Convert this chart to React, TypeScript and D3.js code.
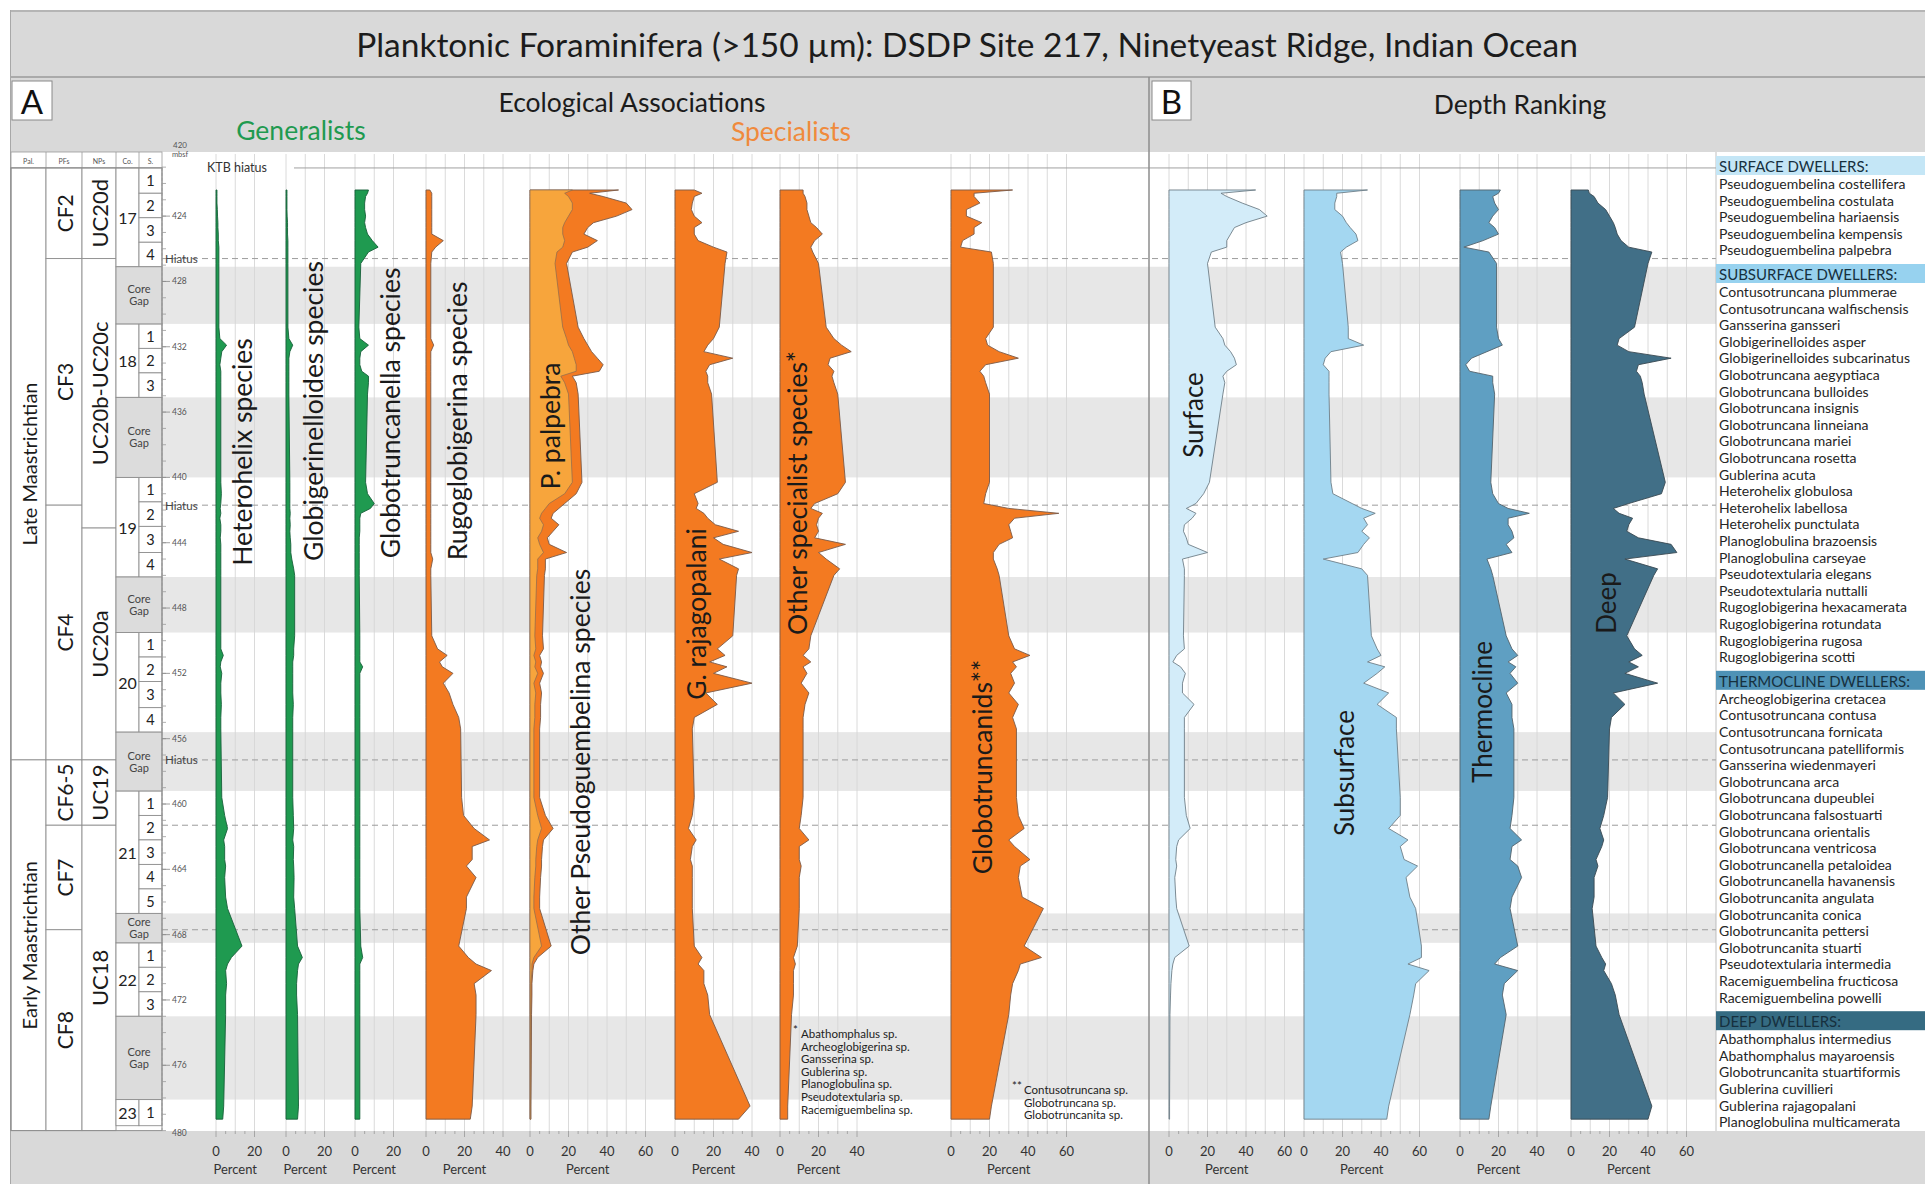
import React from "react";
import * as d3 from "d3";

// ---------------- Sample depths (mbsf), DSDP Site 217 ----------------
const depths = [
  422.4, 422.6, 422.8, 423.2, 423.6, 424.0, 424.4, 424.7, 425.1, 425.5, 425.9, 426.2, 426.9,
  430.8, 431.5, 431.9, 432.3, 432.7, 433.1, 433.5, 433.8, 434.2, 434.9,
  440.3, 441.0, 441.6, 441.9, 442.2, 442.5, 442.9, 443.3, 443.7, 444.1, 444.6, 445.0, 445.6, 446.0,
  449.7, 450.5, 450.9, 451.3, 451.6, 452.0, 452.6, 453.2, 453.9, 454.7, 455.4,
  459.6, 460.7, 461.5, 462.2, 462.6, 463.4, 463.8, 464.5, 465.7, 466.4,
  468.7, 469.4, 469.8, 470.2, 471.0, 471.7, 472.9,
  478.5, 479.3,
];

// ---------------- A: Ecological associations (% of assemblage) ----------------
const heterohelix = [
  0.5, 0.5, 0.5, 0.5, 0.7, 0.8, 1.0, 1.0, 1.2, 1.2, 1.5, 1.5, 1.5,
  1.5, 2.0, 5.5, 3.0, 2.5, 2.0, 2.5, 2.5, 2.5, 2.5,
  2.5, 2.8, 2.5, 2.2, 2.5, 2.0, 2.5, 2.5, 2.2, 2.5, 2.5, 2.5, 2.5, 2.5,
  2.5, 2.5, 3.8, 2.5, 2.2, 3.0, 2.5, 2.5, 2.8, 2.5, 2.5,
  3.0, 4.5, 6.0, 4.0, 4.5, 4.5, 5.0, 4.5, 5.0, 6.0,
  13.5, 8.0, 6.0, 5.0, 5.5, 5.0, 5.0,
  4.0, 3.5,
];
const globigerinelloides = [
  0.5, 0.5, 0.5, 0.5, 0.5, 0.6, 0.8, 0.8, 0.8, 1.0, 1.0, 1.0, 1.0,
  1.0, 1.5, 3.5, 2.0, 1.5, 1.5, 1.5, 1.5, 1.5, 1.5,
  2.0, 2.0, 2.0, 2.0, 2.2, 2.0, 2.2, 2.0, 2.2, 2.5, 2.5, 3.0, 4.0, 4.5,
  4.5, 4.0, 4.0, 3.5, 3.5, 3.5, 3.5, 3.5, 3.8, 3.5, 3.5,
  3.5, 3.8, 4.0, 3.5, 4.0, 3.8, 4.0, 4.2, 4.0, 4.5,
  6.0, 8.5, 6.5, 6.0, 5.5, 5.5, 6.0,
  6.5, 6.0,
];
const globotruncanella = [
  7, 6.5, 5.5, 5, 5, 5.5, 5, 5.5, 6.5, 9, 12, 7, 3,
  2, 2.5, 7, 3, 2.5, 2.5, 3.5, 7, 7, 6.5,
  5.5, 6.5, 10, 8, 3, 2.5, 2.5, 2.5, 2.2, 2.2, 2.2, 2.2, 2.2, 2.2,
  2.5, 2.5, 2.5, 2.5, 4, 2.5, 2.5, 2.5, 2.5, 2.5, 2.5,
  2.5, 2.5, 2.5, 2.5, 2.5, 2.5, 2.5, 2.5, 2.5, 2.5,
  3, 4, 2.5, 2.5, 2.5, 2.5, 2.5,
  2.5, 2.5,
];
const rugoglobigerina = [
  2, 3, 3, 3, 3, 3, 3, 3, 3, 9, 5, 3, 2.5,
  2.5, 2.5, 4, 2.5, 2.5, 2.5, 2.5, 2.5, 2.5, 2.5,
  2.5, 2.5, 2.5, 2.5, 2.5, 2.5, 2.5, 2.5, 2.5, 2.5, 2.5, 3.5, 2.5, 2.5,
  3, 6, 11, 7, 8.5, 14, 9, 12, 14, 17, 18,
  18.5, 19.5, 25, 33, 24, 24, 21, 26, 21, 21,
  17, 22, 26, 34, 25, 26, 26,
  24, 23,
];
const palpebra = [
  22, 18, 20, 22, 22, 20, 18, 17, 17, 18, 17, 14, 13,
  17, 19, 20, 22, 23, 24, 24, 16, 18, 20,
  22, 18, 10, 8, 6, 5, 7, 6, 4, 5, 7, 4, 4, 3.5,
  2.5, 3, 2, 3, 2.5, 4, 2, 3, 2.5, 2.5, 2,
  2, 4, 6, 4, 3.5, 3, 3, 2.5, 2, 2,
  6, 2, 1, 1, 0.5, 0.5, 0.4,
  0.3, 0.3,
];
const otherPseudoguembelina = [
  24, 13, 18, 28, 31, 25, 15, 13, 11, 17, 13, 8, 6,
  8, 9, 10, 10, 12, 14, 12, 6, 6, 5,
  5, 6, 8, 7, 6, 6, 8, 6, 5, 5, 12, 4, 4, 4,
  4, 4, 3, 3, 3, 3, 3, 3, 3, 3, 3,
  3, 4, 6, 3, 3, 3, 3, 3, 3, 3,
  5, 2, 1, 0.5, 0.5, 0.5, 0.4,
  0.2, 0.2,
];
const rajagopalani = [
  10, 14, 10, 9, 8.5, 10, 14, 10, 10, 12, 20, 27, 26,
  23, 20, 17, 15, 30, 18, 16, 17, 17, 19,
  22, 10, 12, 11, 15, 17, 21, 33, 20, 25, 40, 23, 33, 32,
  30, 22, 26, 18, 27, 20, 40, 16, 22, 10, 9,
  10, 9, 7, 11, 9, 8, 9, 9, 9, 9,
  10, 14, 12, 15, 15, 17, 18,
  39, 33,
];
const otherSpecialists = [
  12, 12, 13, 14, 14, 15, 16, 19, 22, 18, 16, 17, 20,
  24, 28, 32, 37, 26, 25, 28, 27, 28, 30,
  34, 30, 18, 16, 22, 20, 19, 20, 18, 34, 20, 24, 31, 28,
  16, 15, 12, 16, 12, 14, 11, 15, 13, 12, 12,
  12, 11, 10, 15, 10, 10, 11, 10, 10, 10,
  9, 7, 8, 7, 7, 7, 6,
  4, 4,
];
const globotruncanids = [
  32, 12, 12, 15, 8, 8, 16, 12, 12, 6, 5, 21, 22,
  22, 18, 19, 25, 35, 18, 15, 17, 18, 20,
  20, 18, 17, 30, 56, 33, 30, 31, 32, 25, 22, 22, 24, 25,
  30, 33, 41, 32, 34, 31, 33, 30, 35, 32, 34,
  34, 35, 38, 30, 33, 41, 36, 35, 37, 48,
  38, 47, 36, 35, 32, 31, 30,
  21, 20,
];

// ---------------- B: Depth ranking (% of assemblage) ----------------
const surface = [
  45, 27, 30, 38, 47, 51, 40, 34, 32, 30, 30, 22, 20,
  24, 28, 29, 32, 34, 35, 30, 28, 29, 28,
  21, 18, 14, 9, 14, 12, 8, 7.5, 9, 10, 20, 7, 8, 8,
  7.5, 8, 4, 2, 6, 8.5, 7, 7, 13, 8, 8,
  8, 9, 11, 5, 4, 3.5, 4, 3, 3.5, 4,
  10.5, 3, 2, 1.5, 1, 0.8, 0.5,
  0.3, 0.3,
];
const subsurface = [
  33, 17, 17, 16, 16, 20, 22, 24, 27, 28, 22, 19, 20,
  23, 23, 31, 14, 11, 10, 13, 13, 13, 13,
  14, 15, 25, 30, 37, 31, 33, 30, 34, 31, 28, 10, 30, 33,
  35, 38, 40, 33, 42, 38, 31, 44, 38, 48, 48,
  50, 50, 44, 54, 50, 52, 59, 53, 55, 58,
  61, 61, 54, 65, 58, 57, 55,
  44, 43,
];
const thermocline = [
  21, 20, 17, 18, 20, 17, 15, 18, 20, 12, 2, 15, 19,
  19, 20, 22, 14, 6, 3, 5, 17, 17, 18,
  16, 17, 20, 25, 36, 25, 25, 27, 28, 24, 27, 14, 16, 17,
  24, 27, 30, 25, 29, 26, 30, 24, 27, 27, 28,
  28, 27, 26, 32, 27, 26, 30, 32, 27, 26,
  30, 21, 18, 30, 23, 22, 24,
  16, 15,
];
const deep = [
  9, 9.5, 12, 14, 18, 20, 22, 23, 24, 26, 30, 42, 40,
  33, 25, 24, 30, 52, 35, 34, 36, 37, 38,
  49, 47, 30, 22, 25, 32, 30, 29, 35, 52, 55, 28, 45, 43,
  29, 33, 37, 30, 35, 28, 45, 22, 28, 21, 20,
  19, 17, 15, 17, 16, 13, 14, 12, 12, 11,
  13, 16, 18, 17, 21, 23, 25,
  42, 40,
];

// ---------------- Stratigraphy ----------------
const epochs = [
  { label: "Late Maastrichtian", top: 421.05, base: 457.3 },
  { label: "Early Maastrichtian", top: 457.3, base: 480 },
];
const pfZones = [
  { label: "CF2", top: 421.05, base: 426.6 },
  { label: "CF3", top: 426.6, base: 441.7 },
  { label: "CF4", top: 441.7, base: 457.3 },
  { label: "CF6-5", top: 457.3, base: 461.3 },
  { label: "CF7", top: 461.3, base: 467.7 },
  { label: "CF8", top: 467.7, base: 480 },
];
const npZones = [
  { label: "UC20d", top: 421.05, base: 426.6 },
  { label: "UC20b-UC20c", top: 426.6, base: 443.1 },
  { label: "UC20a", top: 443.1, base: 457.3 },
  { label: "UC19", top: 457.3, base: 461.3 },
  { label: "UC18", top: 461.3, base: 480 },
];
const cores = [
  { id: "17", sections: [421.05, 422.6, 424.1, 425.6, 427.1] },
  { id: "18", sections: [430.6, 432.1, 433.6, 435.1] },
  { id: "19", sections: [440.0, 441.5, 443.0, 444.6, 446.1] },
  { id: "20", sections: [449.5, 451.0, 452.5, 454.1, 455.6] },
  { id: "21", sections: [459.2, 460.7, 462.2, 463.7, 465.2, 466.7] },
  { id: "22", sections: [468.5, 470.0, 471.5, 473.0] },
  { id: "23", sections: [478.1, 479.7] },
];
const coreGaps = [
  [427.1, 430.6], [435.1, 440.0], [446.1, 449.5],
  [455.6, 459.2], [466.7, 468.5], [473.0, 478.1],
];
const hiatuses = [426.6, 441.7, 457.3, 461.3, 467.7];
const labelledHiatuses = [426.6, 441.7, 457.3];
const depthTicks = [424, 428, 432, 436, 440, 444, 448, 452, 456, 460, 464, 468, 472, 476];
const columnHeads = ["Pal.", "PFs", "NPs", "Co.", "S."];

// ---------------- Species lists for depth ranking ----------------
const surfaceDwellers = [
  "Pseudoguembelina costellifera", "Pseudoguembelina costulata", "Pseudoguembelina hariaensis",
  "Pseudoguembelina kempensis", "Pseudoguembelina palpebra",
];
const subsurfaceDwellers = [
  "Contusotruncana plummerae", "Contusotruncana walfischensis", "Gansserina gansseri",
  "Globigerinelloides asper", "Globigerinelloides subcarinatus", "Globotruncana aegyptiaca",
  "Globotruncana bulloides", "Globotruncana insignis", "Globotruncana linneiana",
  "Globotruncana mariei", "Globotruncana rosetta", "Gublerina acuta", "Heterohelix globulosa",
  "Heterohelix labellosa", "Heterohelix punctulata", "Planoglobulina brazoensis",
  "Planoglobulina carseyae", "Pseudotextularia elegans", "Pseudotextularia nuttalli",
  "Rugoglobigerina hexacamerata", "Rugoglobigerina rotundata", "Rugoglobigerina rugosa",
  "Rugoglobigerina scotti",
];
const thermoclineDwellers = [
  "Archeoglobigerina cretacea", "Contusotruncana contusa", "Contusotruncana fornicata",
  "Contusotruncana patelliformis", "Gansserina wiedenmayeri", "Globotruncana arca",
  "Globotruncana dupeublei", "Globotruncana falsostuarti", "Globotruncana orientalis",
  "Globotruncana ventricosa", "Globotruncanella petaloidea", "Globotruncanella havanensis",
  "Globotruncanita angulata", "Globotruncanita conica", "Globotruncanita pettersi",
  "Globotruncanita stuarti", "Pseudotextularia intermedia", "Racemiguembelina fructicosa",
  "Racemiguembelina powelli",
];
const deepDwellers = [
  "Abathomphalus intermedius", "Abathomphalus mayaroensis", "Globotruncanita stuartiformis",
  "Gublerina cuvillieri", "Gublerina rajagopalani", "Planoglobulina multicamerata",
];
const otherSpecialistFootnote = [
  "Abathomphalus sp.", "Archeoglobigerina sp.", "Gansserina sp.", "Gublerina sp.",
  "Planoglobulina sp.", "Pseudotextularia sp.", "Racemiguembelina sp.",
];
const globotruncanidFootnote = ["Contusotruncana sp.", "Globotruncana sp.", "Globotruncanita sp."];

// ---------------- Layout & style ----------------
const W = 1925;
const H = 1184;
const FONT = "Lato, 'Open Sans', 'DejaVu Sans', sans-serif";
const GREEN = "#1f9a50";
const ORANGE = "#f37a21";
const LIGHT_ORANGE = "#f7a53c";
const BODY_TOP = 152;
const BODY_BOTTOM = 1131;
const LIST_X = 1716;
const DIVIDER_X = 1149;
const PCT_PX = 1.925; // pixels per percent on every panel
const colX = [11, 46, 82, 116, 139, 162];

const y = d3.scaleLinear().domain([420, 480]).range([150.8, 1130.6]);

type Panel = {
  name: string;
  values: number[];
  zero: number;
  max: number;
  fill: string;
  stroke: string;
  labelX: number;
  labelY: number;
  labelSize: number;
};

const panels: Panel[] = [
  { name: "Heterohelix species", values: heterohelix, zero: 216, max: 20, fill: GREEN, stroke: "#17603a", labelX: 242, labelY: 452, labelSize: 26.5 },
  { name: "Globigerinelloides species", values: globigerinelloides, zero: 286, max: 20, fill: GREEN, stroke: "#17603a", labelX: 313, labelY: 411, labelSize: 26.5 },
  { name: "Globotruncanella species", values: globotruncanella, zero: 355, max: 20, fill: GREEN, stroke: "#17603a", labelX: 390, labelY: 413, labelSize: 26.5 },
  { name: "Rugoglobigerina species", values: rugoglobigerina, zero: 426, max: 40, fill: ORANGE, stroke: "#7a5a48", labelX: 457, labelY: 421, labelSize: 26.5 },
  { name: "", values: [], zero: 530, max: 60, fill: ORANGE, stroke: "#7a5a48", labelX: 0, labelY: 0, labelSize: 26.5 },
  { name: "G. rajagopalani", values: rajagopalani, zero: 675, max: 40, fill: ORANGE, stroke: "#7a5a48", labelX: 696, labelY: 614, labelSize: 26.5 },
  { name: "Other specialist species*", values: otherSpecialists, zero: 780, max: 40, fill: ORANGE, stroke: "#7a5a48", labelX: 797, labelY: 493, labelSize: 26.5 },
  { name: "Globotruncanids**", values: globotruncanids, zero: 951, max: 60, fill: ORANGE, stroke: "#7a5a48", labelX: 982, labelY: 767, labelSize: 26.5 },
  { name: "Surface", values: surface, zero: 1169, max: 60, fill: "#d3ecf9", stroke: "#6f7f88", labelX: 1193, labelY: 415, labelSize: 26 },
  { name: "Subsurface", values: subsurface, zero: 1304, max: 60, fill: "#a4d7f1", stroke: "#6f7f88", labelX: 1344, labelY: 773, labelSize: 26 },
  { name: "Thermocline", values: thermocline, zero: 1460, max: 40, fill: "#5f9fc2", stroke: "#53636c", labelX: 1482, labelY: 712, labelSize: 26 },
  { name: "Deep", values: deep, zero: 1571, max: 60, fill: "#416f87", stroke: "#3a4a52", labelX: 1606, labelY: 603, labelSize: 26 },
];

const speciesGroups = [
  { title: "SURFACE DWELLERS:", bg: "#c4e6f6", items: surfaceDwellers },
  { title: "SUBSURFACE DWELLERS:", bg: "#97d2ef", items: subsurfaceDwellers },
  { title: "THERMOCLINE DWELLERS:", bg: "#4e92b6", items: thermoclineDwellers },
  { title: "DEEP DWELLERS:", bg: "#356b82", items: deepDwellers },
];

function xScale(p: Panel) {
  return d3.scaleLinear().domain([0, 100]).range([p.zero, p.zero + 100 * PCT_PX]);
}

function RotText(props: { x: number; y: number; size: number; children: React.ReactNode; fill?: string }) {
  return (
    <text
      transform={`translate(${props.x},${props.y}) rotate(-90)`}
      textAnchor="middle"
      dominantBaseline="central"
      fontSize={props.size}
      fill={props.fill ?? "#1a1a1a"}
    >
      {props.children}
    </text>
  );
}

export default function App() {
  const idx = d3.range(depths.length);

  const singleArea = (p: Panel) => {
    const x = xScale(p);
    return (
      d3
        .area<number>()
        .y((i) => y(depths[i]))
        .x0(() => x(0))
        .x1((i) => x(p.values[i]))(idx) ?? ""
    );
  };

  // Stacked Pseudoguembelina panel
  const pseudoPanel = panels[4];
  const px = xScale(pseudoPanel);
  const stackRows = depths.map((_, i) => ({ palpebra: palpebra[i], other: otherPseudoguembelina[i] }));
  const stacked = d3.stack<{ palpebra: number; other: number }>().keys(["palpebra", "other"])(stackRows);
  const stackArea = d3
    .area<d3.SeriesPoint<{ palpebra: number; other: number }>>()
    .y((_, i) => y(depths[i]))
    .x0((d) => px(d[0]))
    .x1((d) => px(d[1]));
  const outerArea = d3
    .area<d3.SeriesPoint<{ palpebra: number; other: number }>>()
    .y((_, i) => y(depths[i]))
    .x0(() => px(0))
    .x1((d) => px(d[1]));

  // species list rows
  const listRows: { text: string; y: number; header?: boolean; bg?: string }[] = [];
  let cy = 156;
  speciesGroups.forEach((g, gi) => {
    if (gi > 0) cy += 6;
    listRows.push({ text: g.title, y: cy, header: true, bg: g.bg });
    cy += 19;
    g.items.forEach((s) => {
      listRows.push({ text: s, y: cy });
      cy += 16.6;
    });
  });

  return (
    <svg
      width={W}
      height={H}
      viewBox={`0 0 ${W} ${H}`}
      style={{ position: "absolute", left: 0, top: 0, display: "block", background: "#ffffff" }}
      fontFamily={FONT}
    >
      {/* frame bands */}
      <rect x={10} y={10} width={W - 10} height={H - 10} fill="#d9d9d9" />
      <line x1={10} x2={W} y1={11} y2={11} stroke="#a8a8a8" strokeWidth={1.5} />
      <line x1={10} x2={W} y1={77} y2={77} stroke="#9a9a9a" strokeWidth={1.5} />
      <line x1={10.5} x2={10.5} y1={10} y2={H} stroke="#a8a8a8" strokeWidth={1} />
      <text x={967} y={44} textAnchor="middle" dominantBaseline="central" fontSize={33.5} fill="#1c1c1c">
        Planktonic Foraminifera (&gt;150 µm): DSDP Site 217, Ninetyeast Ridge, Indian Ocean
      </text>

      {/* chart body */}
      <rect x={11} y={BODY_TOP} width={LIST_X - 11} height={BODY_BOTTOM - BODY_TOP} fill="#ffffff" />
      <rect x={LIST_X} y={BODY_TOP} width={W - LIST_X} height={BODY_BOTTOM - BODY_TOP} fill="#ffffff" />

      {/* core gap bands */}
      {coreGaps.map(([a, b], i) => (
        <rect key={`cg${i}`} x={colX[3]} y={y(a)} width={LIST_X - colX[3]} height={y(b) - y(a)} fill="#e7e7e7" />
      ))}

      {/* vertical grid lines */}
      {panels.map((p, pi) => {
        const x = xScale(p);
        return d3.range(0, p.max + 1, 10).map((v) => (
          <line key={`g${pi}-${v}`} x1={x(v)} x2={x(v)} y1={BODY_TOP + 2} y2={BODY_BOTTOM} stroke="#d6d6d6" strokeWidth={0.9} />
        ));
      })}

      {/* hiatus lines */}
      {hiatuses.map((h, i) => (
        <line key={`h${i}`} x1={colX[5]} x2={LIST_X} y1={y(h)} y2={y(h)} stroke="#9c9c9c" strokeWidth={1} strokeDasharray="6 4" />
      ))}

      {/* KTB hiatus */}
      <line x1={colX[0]} x2={colX[5]} y1={y(421.05)} y2={y(421.05)} stroke="#8a8a8a" strokeWidth={1} />
      <line x1={294} x2={LIST_X} y1={y(421.05)} y2={y(421.05)} stroke="#a0a0a0" strokeWidth={1} />
      <text x={207} y={y(421.05)} dominantBaseline="central" fontSize={12.5} fill="#333">KTB hiatus</text>

      {/* data areas */}
      {panels.map((p, pi) =>
        pi === 4 ? null : (
          <path key={`a${pi}`} d={singleArea(p)} fill={p.fill} stroke={p.stroke} strokeWidth={0.9} strokeLinejoin="round" />
        )
      )}
      <path d={outerArea(stacked[1]) ?? ""} fill={ORANGE} stroke="#7a5a48" strokeWidth={0.9} strokeLinejoin="round" />
      <path d={stackArea(stacked[0]) ?? ""} fill={LIGHT_ORANGE} stroke="#8a6a50" strokeWidth={0.7} strokeLinejoin="round" />

      {/* panel labels */}
      {panels.map((p, pi) =>
        p.name ? (
          <RotText key={`l${pi}`} x={p.labelX} y={p.labelY} size={p.labelSize}>
            {p.name}
          </RotText>
        ) : null
      )}
      <RotText x={550} y={426} size={26.5}>P. palpebra</RotText>
      <RotText x={580} y={762} size={26.5}>Other Pseudoguembelina species</RotText>

      {/* footnotes */}
      <g fontSize={11.5} fill="#222">
        <text x={793} y={1034}>*</text>
        {otherSpecialistFootnote.map((s, i) => (
          <text key={`f1${i}`} x={801} y={1038 + i * 12.6}>{s}</text>
        ))}
        <text x={1012} y={1090}>**</text>
        {globotruncanidFootnote.map((s, i) => (
          <text key={`f2${i}`} x={1024} y={1094 + i * 12.6}>{s}</text>
        ))}
      </g>

      {/* stratigraphic columns */}
      <rect x={colX[0]} y={BODY_TOP} width={colX[5] - colX[0]} height={y(421.05) - BODY_TOP} fill="#ffffff" stroke="#9a9a9a" strokeWidth={0.8} />
      {columnHeads.map((t, i) => (
        <text key={`ch${i}`} x={(colX[i] + colX[i + 1]) / 2} y={161} textAnchor="middle" dominantBaseline="central" fontSize={7} fill="#555">
          {t}
        </text>
      ))}
      {colX.slice(1, 5).map((cx, i) => (
        <line key={`cv${i}`} x1={cx} x2={cx} y1={BODY_TOP} y2={y(421.05)} stroke="#9a9a9a" strokeWidth={0.8} />
      ))}
      {epochs.map((e, i) => (
        <g key={`ep${i}`}>
          <rect x={colX[0]} y={y(e.top)} width={colX[1] - colX[0]} height={y(e.base) - y(e.top)} fill="#fff" stroke="#8f8f8f" strokeWidth={0.9} />
          <RotText x={(colX[0] + colX[1]) / 2} y={(y(e.top) + y(e.base)) / 2} size={20}>{e.label}</RotText>
        </g>
      ))}
      {pfZones.map((z, i) => (
        <g key={`pf${i}`}>
          <rect x={colX[1]} y={y(z.top)} width={colX[2] - colX[1]} height={y(z.base) - y(z.top)} fill="#fff" stroke="#8f8f8f" strokeWidth={0.9} />
          <RotText x={(colX[1] + colX[2]) / 2} y={(y(z.top) + y(z.base)) / 2} size={21}>{z.label}</RotText>
        </g>
      ))}
      {npZones.map((z, i) => (
        <g key={`np${i}`}>
          <rect x={colX[2]} y={y(z.top)} width={colX[3] - colX[2]} height={y(z.base) - y(z.top)} fill="#fff" stroke="#8f8f8f" strokeWidth={0.9} />
          <RotText x={(colX[2] + colX[3]) / 2} y={(y(z.top) + y(z.base)) / 2} size={22}>{z.label}</RotText>
        </g>
      ))}
      {cores.map((c, i) => {
        const top = c.sections[0];
        const base = c.sections[c.sections.length - 1];
        return (
          <g key={`core${i}`}>
            <rect x={colX[3]} y={y(top)} width={colX[4] - colX[3]} height={y(base) - y(top)} fill="#fff" stroke="#8f8f8f" strokeWidth={0.9} />
            <text x={(colX[3] + colX[4]) / 2} y={(y(top) + y(base)) / 2} textAnchor="middle" dominantBaseline="central" fontSize={16} fill="#222">
              {c.id}
            </text>
            {c.sections.slice(0, -1).map((s, j) => (
              <g key={`sec${i}-${j}`}>
                <rect x={colX[4]} y={y(s)} width={colX[5] - colX[4]} height={y(c.sections[j + 1]) - y(s)} fill="#fff" stroke="#8f8f8f" strokeWidth={0.9} />
                <text x={(colX[4] + colX[5]) / 2} y={(y(s) + y(c.sections[j + 1])) / 2} textAnchor="middle" dominantBaseline="central" fontSize={14.5} fill="#222">
                  {j + 1}
                </text>
              </g>
            ))}
          </g>
        );
      })}
      {coreGaps.map(([a, b], i) => (
        <g key={`cgc${i}`}>
          <rect x={colX[3]} y={y(a)} width={colX[5] - colX[3]} height={y(b) - y(a)} fill="#dcdcdc" stroke="#8f8f8f" strokeWidth={0.9} />
          <text x={(colX[3] + colX[5]) / 2} y={(y(a) + y(b)) / 2} textAnchor="middle" fontSize={11} fill="#444">
            <tspan x={(colX[3] + colX[5]) / 2} dy={-2}>Core</tspan>
            <tspan x={(colX[3] + colX[5]) / 2} dy={12}>Gap</tspan>
          </text>
        </g>
      ))}
      <rect x={colX[0]} y={y(421.05)} width={colX[5] - colX[0]} height={y(480) - y(421.05)} fill="none" stroke="#8f8f8f" strokeWidth={1} />

      {/* depth scale */}
      <line x1={colX[5]} x2={colX[5]} y1={y(421.05)} y2={y(480)} stroke="#9a9a9a" strokeWidth={0.8} strokeDasharray="3 2" />
      {d3.range(421, 481, 1).map((d) => (
        <line key={`mt${d}`} x1={colX[5]} x2={colX[5] + 4} y1={y(d)} y2={y(d)} stroke="#9a9a9a" strokeWidth={0.8} />
      ))}
      {depthTicks.map((d) => (
        <g key={`dt${d}`}>
          <line x1={colX[5]} x2={colX[5] + 8} y1={y(d)} y2={y(d)} stroke="#888" strokeWidth={0.8} />
          <text x={172} y={y(d)} dominantBaseline="central" fontSize={8.5} fill="#555">{d}</text>
        </g>
      ))}
      <text x={180} y={148} textAnchor="middle" fontSize={8} fill="#555">420</text>
      <text x={180} y={157} textAnchor="middle" fontSize={7.5} fill="#555">mbsf</text>
      <text x={172} y={y(480) + 2} dominantBaseline="central" fontSize={8.5} fill="#555">480</text>
      {labelledHiatuses.map((h, i) => (
        <text key={`hl${i}`} x={165} y={y(h)} dominantBaseline="central" fontSize={11.5} fill="#444">Hiatus</text>
      ))}

      {/* header band */}
      <text x={632} y={102} textAnchor="middle" dominantBaseline="central" fontSize={26.5} fill="#1c1c1c">Ecological Associations</text>
      <text x={1520} y={104} textAnchor="middle" dominantBaseline="central" fontSize={26.5} fill="#1c1c1c">Depth Ranking</text>
      <text x={301} y={130} textAnchor="middle" dominantBaseline="central" fontSize={26.5} fill={GREEN}>Generalists</text>
      <text x={791} y={131} textAnchor="middle" dominantBaseline="central" fontSize={26.5} fill="#f08a3c">Specialists</text>
      <rect x={12} y={81} width={40} height={39} fill="#ffffff" stroke="#8a8a8a" strokeWidth={1} />
      <text x={32} y={101} textAnchor="middle" dominantBaseline="central" fontSize={33} fill="#111">A</text>
      <rect x={1152} y={81} width={39} height={39} fill="#ffffff" stroke="#8a8a8a" strokeWidth={1} />
      <text x={1171.5} y={101} textAnchor="middle" dominantBaseline="central" fontSize={33} fill="#111">B</text>

      {/* bottom axes */}
      {panels.map((p, pi) => {
        const x = xScale(p);
        return (
          <g key={`ax${pi}`}>
            {d3.range(0, p.max + 1, 5).map((v) => (
              <line key={`mt${v}`} x1={x(v)} x2={x(v)} y1={BODY_BOTTOM} y2={BODY_BOTTOM + (v % 20 === 0 ? 6 : 3)} stroke="#999" strokeWidth={0.8} />
            ))}
            {d3.range(0, p.max + 1, 20).map((v) => (
              <text key={`tl${v}`} x={x(v)} y={1151} textAnchor="middle" dominantBaseline="central" fontSize={13} fill="#333">
                {v}
              </text>
            ))}
            <text x={x(p.max / 2)} y={1169} textAnchor="middle" dominantBaseline="central" fontSize={13} fill="#333">
              Percent
            </text>
          </g>
        );
      })}

      {/* panel divider */}
      <line x1={DIVIDER_X} x2={DIVIDER_X} y1={77} y2={H} stroke="#8c8c8c" strokeWidth={1.5} />
      <line x1={LIST_X} x2={LIST_X} y1={BODY_TOP} y2={BODY_BOTTOM} stroke="#b0b0b0" strokeWidth={0.8} />

      {/* species list */}
      {listRows.map((r, i) =>
        r.header ? (
          <g key={`sp${i}`}>
            <rect x={LIST_X} y={r.y} width={W - LIST_X} height={19} fill={r.bg} />
            <text x={LIST_X + 3} y={r.y + 10} dominantBaseline="central" fontSize={15} fill="#16303e">
              {r.text}
            </text>
          </g>
        ) : (
          <text key={`sp${i}`} x={LIST_X + 3} y={r.y + 8.5} dominantBaseline="central" fontSize={14} fill="#262626">
            {r.text}
          </text>
        )
      )}
    </svg>
  );
}
